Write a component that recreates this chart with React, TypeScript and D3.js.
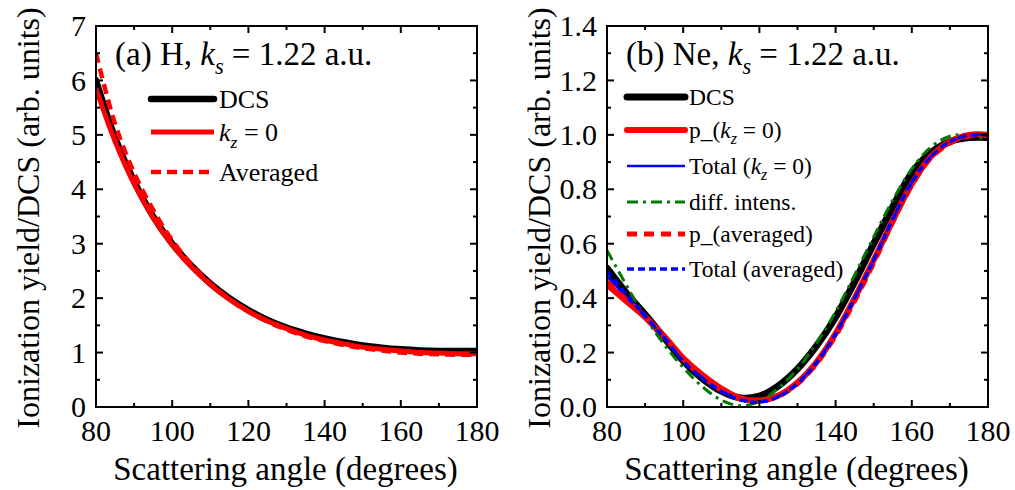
import * as d3 from "d3";

// scattering angles (degrees)
const angles = [80, 85, 90, 95, 100, 105, 110, 115, 120, 125, 130, 135, 140, 145, 150, 155, 160, 165, 170, 175, 180];

// (a) H
const hDcs = [6.0, 4.95, 4.15, 3.5, 3.0, 2.6, 2.27, 2.0, 1.78, 1.6, 1.46, 1.35, 1.26, 1.19, 1.13, 1.09, 1.06, 1.04, 1.03, 1.03, 1.03];
const hKz0 = [5.85, 4.88, 4.1, 3.48, 2.98, 2.58, 2.25, 1.98, 1.76, 1.58, 1.44, 1.32, 1.23, 1.16, 1.1, 1.06, 1.03, 1.0, 0.99, 0.98, 0.98];
const hAvg = [6.5, 5.2, 4.3, 3.62, 3.06, 2.62, 2.27, 1.98, 1.75, 1.57, 1.42, 1.3, 1.21, 1.14, 1.08, 1.04, 1.0, 0.98, 0.97, 0.96, 0.96];

// (b) Ne
const neDcs = [0.51, 0.42, 0.34, 0.255, 0.17, 0.105, 0.058, 0.033, 0.04, 0.078, 0.14, 0.225, 0.33, 0.46, 0.6, 0.735, 0.86, 0.935, 0.975, 0.99, 0.99];
const neP0 = [0.45, 0.39, 0.33, 0.26, 0.18, 0.118, 0.068, 0.032, 0.024, 0.042, 0.09, 0.165, 0.27, 0.4, 0.54, 0.685, 0.82, 0.92, 0.975, 1.0, 1.0];
const neTot0 = [0.48, 0.405, 0.333, 0.255, 0.17, 0.108, 0.06, 0.028, 0.02, 0.04, 0.088, 0.165, 0.27, 0.4, 0.54, 0.69, 0.825, 0.92, 0.975, 1.0, 1.0];
const neDiff = [0.575, 0.45, 0.33, 0.23, 0.145, 0.075, 0.025, 0.005, 0.02, 0.07, 0.14, 0.235, 0.35, 0.485, 0.625, 0.76, 0.875, 0.955, 0.995, 1.0, 0.98];
const neAvgP = [0.46, 0.395, 0.332, 0.26, 0.175, 0.112, 0.062, 0.03, 0.022, 0.04, 0.085, 0.16, 0.262, 0.39, 0.53, 0.68, 0.815, 0.915, 0.97, 0.995, 1.0];
const neAvgTot = [0.5, 0.415, 0.335, 0.255, 0.168, 0.105, 0.057, 0.026, 0.018, 0.038, 0.086, 0.163, 0.268, 0.4, 0.54, 0.69, 0.825, 0.92, 0.975, 0.998, 1.0];

// tick labels
const xTicks = [80, 100, 120, 140, 160, 180];
const hYTicks = [0, 1, 2, 3, 4, 5, 6, 7];
const neYTicks = [0, 0.2, 0.4, 0.6, 0.8, 1.0, 1.2, 1.4];

const FONT = "'Liberation Serif', 'Times New Roman', serif";

type Series = {
  values: number[];
  color: string;
  width: number;
  dash?: string;
  cap?: "round" | "butt";
  label: any;
};

// italic letter with italic subscript; the text after it goes back to the baseline
function Sub({ k, sub, after }: { k: string; sub: string; after: string }) {
  return (
    <>
      <tspan fontStyle="italic">{k}</tspan>
      <tspan fontStyle="italic" fontSize="0.68em" dy="0.4em">
        {sub}
      </tspan>
      <tspan dy="-0.272em">{after}</tspan>
    </>
  );
}

function Panel({
  id,
  left,
  yMax,
  yTicks,
  yMinorStep,
  yFormat,
  series,
  title,
  legendX,
  legendY,
  legendGap,
  legendLen,
  legendFont,
}: {
  id: string;
  left: number;
  yMax: number;
  yTicks: number[];
  yMinorStep: number;
  yFormat: (v: number) => string;
  series: Series[];
  title: any;
  legendX: number;
  legendY: number[];
  legendGap: number;
  legendLen: number;
  legendFont: number;
}) {
  const top = 26;
  const bottom = 407;
  const right = left + 381;
  const x = d3.scaleLinear().domain([80, 180]).range([left, right]);
  const y = d3.scaleLinear().domain([0, yMax]).range([bottom, top]);
  const xMinor = d3.range(90, 180, 20);
  const yMinor = d3.range(yMinorStep, yMax, yMinorStep * 2);
  const line = d3
    .line<number>()
    .x((_, i) => x(angles[i]))
    .y((d) => y(d))
    .curve(d3.curveCatmullRom.alpha(0.5));

  return (
    <g>
      <defs>
        <clipPath id={id}>
          <rect x={left} y={top} width={right - left} height={bottom - top} />
        </clipPath>
      </defs>
      <g clipPath={`url(#${id})`}>
        {series.map((s, i) => (
          <path
            key={i}
            d={line(s.values) || ""}
            fill="none"
            stroke={s.color}
            strokeWidth={s.width}
            strokeDasharray={s.dash}
            strokeLinecap={s.cap || "butt"}
            strokeLinejoin="round"
          />
        ))}
      </g>
      <rect x={left} y={top} width={right - left} height={bottom - top} fill="none" stroke="#000" strokeWidth={2} />
      {/* x ticks */}
      {xTicks.map((t) => (
        <g key={`x${t}`}>
          <line x1={x(t)} x2={x(t)} y1={bottom} y2={bottom - 7} stroke="#000" strokeWidth={2} />
          <line x1={x(t)} x2={x(t)} y1={top} y2={top + 7} stroke="#000" strokeWidth={2} />
          <text x={x(t)} y={441} textAnchor="middle" fontSize={30}>
            {t}
          </text>
        </g>
      ))}
      {xMinor.map((t) => (
        <g key={`xm${t}`}>
          <line x1={x(t)} x2={x(t)} y1={bottom} y2={bottom - 4} stroke="#000" strokeWidth={2} />
          <line x1={x(t)} x2={x(t)} y1={top} y2={top + 4} stroke="#000" strokeWidth={2} />
        </g>
      ))}
      {/* y ticks */}
      {yTicks.map((t) => (
        <g key={`y${t}`}>
          <line x1={left} x2={left + 7} y1={y(t)} y2={y(t)} stroke="#000" strokeWidth={2} />
          <line x1={right} x2={right - 7} y1={y(t)} y2={y(t)} stroke="#000" strokeWidth={2} />
          <text x={left - 10} y={y(t)} dy="0.34em" textAnchor="end" fontSize={30}>
            {yFormat(t)}
          </text>
        </g>
      ))}
      {yMinor.map((t) => (
        <g key={`ym${t}`}>
          <line x1={left} x2={left + 4} y1={y(t)} y2={y(t)} stroke="#000" strokeWidth={2} />
          <line x1={right} x2={right - 4} y1={y(t)} y2={y(t)} stroke="#000" strokeWidth={2} />
        </g>
      ))}
      {/* axis titles */}
      <text x={(left + right) / 2 - 1} y={480} textAnchor="middle" fontSize={33}>
        Scattering angle (degrees)
      </text>
      <text
        transform={`translate(${left - 57},${218}) rotate(-90)`}
        textAnchor="middle"
        fontSize={32}
      >
        Ionization yield/DCS (arb. units)
      </text>
      {/* panel title */}
      <text x={left + 19} y={65} fontSize={33}>
        {title}
      </text>
      {/* legend */}
      {series.map((s, i) => (
        <g key={`l${i}`}>
          <line
            x1={legendX}
            x2={legendX + legendLen}
            y1={legendY[i]}
            y2={legendY[i]}
            stroke={s.color}
            strokeWidth={s.width}
            strokeDasharray={s.dash}
            strokeLinecap={s.cap || "butt"}
          />
          <text x={legendX + legendLen + legendGap} y={legendY[i]} dy="0.34em" fontSize={legendFont}>
            {s.label}
          </text>
        </g>
      ))}
    </g>
  );
}

export default function App() {
  const hSeries: Series[] = [
    { values: hDcs, color: "#000", width: 6.5, cap: "round", label: "DCS" },
    { values: hKz0, color: "#ff0000", width: 5, label: <Sub k="k" sub="z" after=" = 0" /> },
    { values: hAvg, color: "#ff0000", width: 4.5, dash: "10,6", label: "Averaged" },
  ];
  const neSeries: Series[] = [
    { values: neDcs, color: "#000", width: 7, cap: "round", label: "DCS" },
    { values: neP0, color: "#ff0000", width: 6, cap: "round", label: <>p_(<Sub k="k" sub="z" after=" = 0)" /></> },
    { values: neTot0, color: "#0000ff", width: 2.5, label: <>Total (<Sub k="k" sub="z" after=" = 0)" /></> },
    { values: neDiff, color: "#007a00", width: 3, dash: "11,5,3,5", label: "diff. intens." },
    { values: neAvgP, color: "#ff0000", width: 5, dash: "10,7", label: "p_(averaged)" },
    { values: neAvgTot, color: "#0000ff", width: 3.5, dash: "7,4", label: "Total (averaged)" },
  ];
  return (
    <svg
      width={1015}
      height={490}
      style={{ position: "absolute", left: 0, top: 0, background: "#fff" }}
      fontFamily={FONT}
    >
      <rect width={1015} height={490} fill="#fff" />
      <Panel
        id="clipH"
        left={96}
        yMax={7}
        yTicks={hYTicks}
        yMinorStep={0.5}
        yFormat={d3.format("d")}
        series={hSeries}
        title={<>(a) H, <Sub k="k" sub="s" after=" = 1.22 a.u." /></>}
        legendX={151}
        legendY={[99, 132, 172]}
        legendGap={5}
        legendLen={63}
        legendFont={26}
      />
      <Panel
        id="clipNe"
        left={607}
        yMax={1.4}
        yTicks={neYTicks}
        yMinorStep={0.1}
        yFormat={d3.format(".1f")}
        series={neSeries}
        title={<>(b) Ne, <Sub k="k" sub="s" after=" = 1.22 a.u." /></>}
        legendX={627}
        legendY={[97, 130, 166, 202, 234, 269]}
        legendGap={4}
        legendLen={58}
        legendFont={23.5}
      />
    </svg>
  );
}
